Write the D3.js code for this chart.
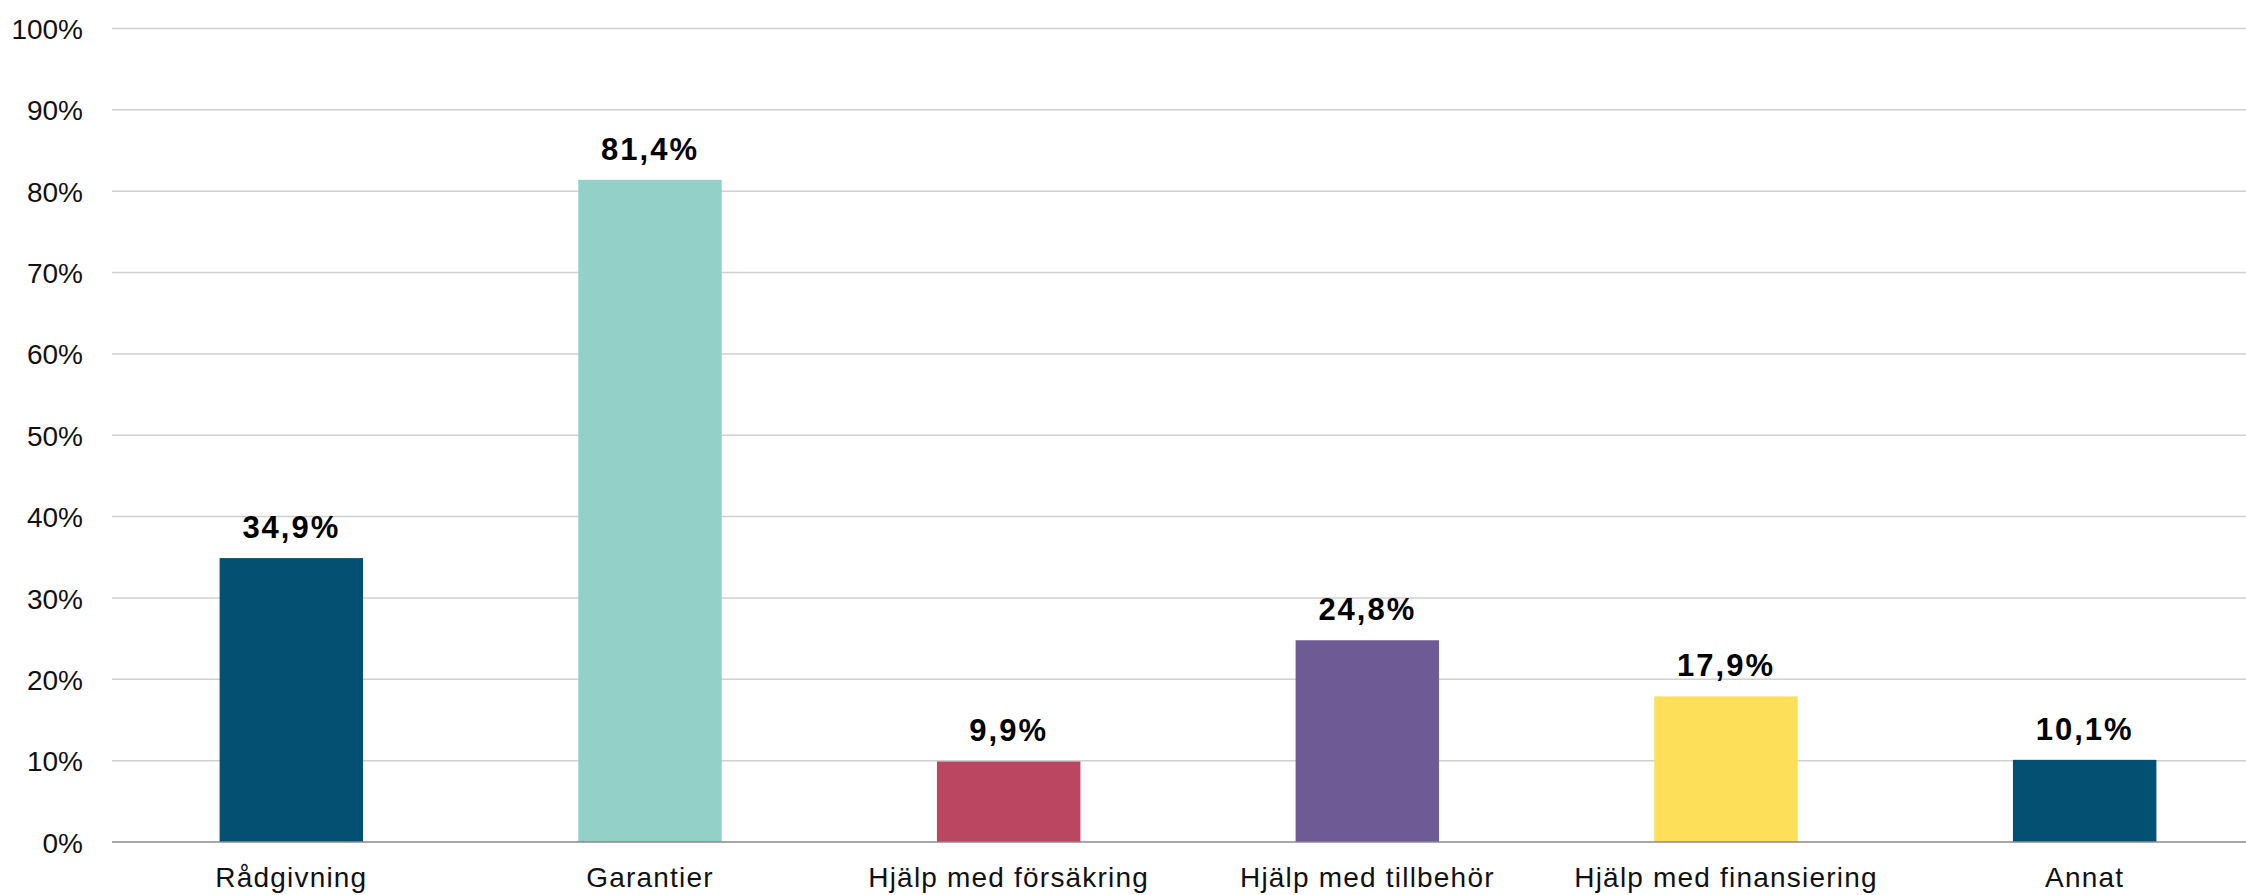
<!DOCTYPE html>
<html>
<head>
<meta charset="utf-8">
<script src="https://cdn.jsdelivr.net/npm/d3@7"></script>
<style>
  html, body { margin: 0; padding: 0; background: #fff; overflow: hidden; }
  svg { display: block; }
</style>
</head>
<body>
<svg id="chart" width="2246" height="895"></svg>
<script>
const categories = ["Rådgivning", "Garantier", "Hjälp med försäkring", "Hjälp med tillbehör", "Hjälp med finansiering", "Annat"];
const values = [34.9, 81.4, 9.9, 24.8, 17.9, 10.1];
const valueLabels = ["34,9%", "81,4%", "9,9%", "24,8%", "17,9%", "10,1%"];
const colors = ["#035073", "#92D0C8", "#BB4662", "#6E5A94", "#FDDF5A", "#035073"];
const yTicks = [0, 10, 20, 30, 40, 50, 60, 70, 80, 90, 100];
const yTickLabels = ["0%", "10%", "20%", "30%", "40%", "50%", "60%", "70%", "80%", "90%", "100%"];

(function () {
const svg = d3.select("#chart");
const mLeft = 112, mRight = 2264, mTop = 28.5, mBottom = 842;

const x = d3.scaleBand().domain(categories).range([mLeft, mRight]).padding(0);
const y = d3.scaleLinear().domain([0, 100]).range([mBottom, mTop]);
const barW = x.bandwidth() * 0.4;

const font = "'Liberation Sans', Arial, sans-serif";

// gridlines
svg.append("g").selectAll("line")
  .data(yTicks.filter(d => d > 0))
  .join("line")
  .attr("x1", mLeft).attr("x2", 2246)
  .attr("y1", d => y(d)).attr("y2", d => y(d))
  .attr("stroke", "#d0d0d0").attr("stroke-width", 1.5);

// y axis labels
const yAxis = d3.axisLeft(y).tickValues(yTicks).tickSize(0).tickPadding(29)
  .tickFormat((d, i) => yTickLabels[i]);
const gy = svg.append("g").attr("transform", `translate(${mLeft},0)`).call(yAxis);
gy.select(".domain").remove();
gy.selectAll("text")
  .attr("font-family", font).attr("font-size", 28).attr("fill", "#111")
  .attr("dy", "0.36em");

// bars
svg.append("g").selectAll("rect")
  .data(categories)
  .join("rect")
  .attr("x", d => x(d) + x.bandwidth() / 2 - barW / 2)
  .attr("width", barW)
  .attr("y", (d, i) => y(values[i]))
  .attr("height", (d, i) => y(0) - y(values[i]))
  .attr("fill", (d, i) => colors[i]);

// baseline
svg.append("line")
  .attr("x1", mLeft).attr("x2", 2246)
  .attr("y1", y(0)).attr("y2", y(0))
  .attr("stroke", "#8a8a8a").attr("stroke-width", 1.5);

// value labels
svg.append("g").selectAll("text")
  .data(categories)
  .join("text")
  .attr("x", d => x(d) + x.bandwidth() / 2)
  .attr("y", (d, i) => y(values[i]) - 20)
  .attr("text-anchor", "middle")
  .attr("font-family", font).attr("font-weight", "bold").attr("font-size", 31)
  .attr("letter-spacing", 2)
  .attr("fill", "#000")
  .text((d, i) => valueLabels[i]);

// x axis labels
const xAxis = d3.axisBottom(x).tickSize(0).tickPadding(0);
const gx = svg.append("g").attr("transform", `translate(0,${mBottom})`).call(xAxis);
gx.select(".domain").remove();
gx.selectAll("text")
  .attr("font-family", font).attr("font-size", 28).attr("fill", "#111")
  .attr("letter-spacing", 1.2)
  .attr("y", 45).attr("dy", 0);
})();
</script>
</body>
</html>
